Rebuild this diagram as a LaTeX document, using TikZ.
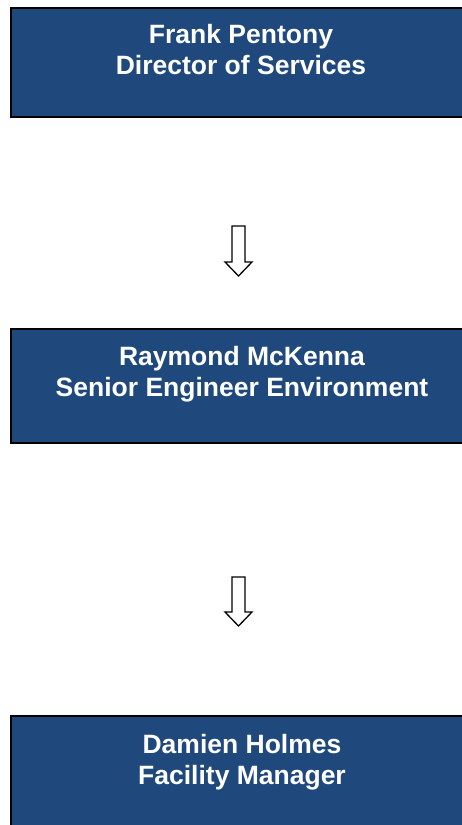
\documentclass[tikz,border=0pt]{standalone}
\usepackage{fontspec}
\setmainfont{Liberation Sans}
\definecolor{boxblue}{RGB}{31,73,125}
\tikzset{
  orgbox/.style={draw=black, line width=2pt, fill=boxblue, minimum width=461pt, inner sep=0pt},
  orgtext/.style={text=white, font=\bfseries\fontsize{26.5}{31}\selectfont, align=center, inner sep=0pt},
  hollowarrow/.style={draw=black, line width=1.3pt, fill=white, line join=miter}
}
% hollow downward block arrow: #1 = top of shaft, #2 = start of head, #3 = tip (y values)
\newcommand{\blockarrowdown}[3]{%
  \draw[hollowarrow] (232,#1) -- (245,#1) -- (245,#2) -- (252,#2) -- (238.5,#3)
    -- (225,#2) -- (232,#2) -- cycle;}
\begin{document}
\begin{tikzpicture}[x=1pt,y=-1pt]
  \useasboundingbox (0,0) rectangle (462,825);
  % organisation boxes (they run past the right edge)
  \node[orgbox, minimum height=109pt] (frank) at (241.5,62.5) {};
  \node[orgbox, minimum height=114pt] (raymond) at (241.5,386) {};
  \node[orgbox, minimum height=120pt] (damien) at (241.5,776) {};
  % names and job titles (anchored on the baseline of the second line)
  \node[orgtext, anchor=base] (franktext) at (241,74.5) {Frank Pentony\\Director of Services};
  \node[orgtext, anchor=base] (raymondtext) at (242,396.5) {Raymond McKenna\\Senior Engineer Environment};
  \node[orgtext, anchor=base] (damientext) at (242,784) {Damien Holmes\\Facility Manager};
  % reporting arrows
  \blockarrowdown{226}{262}{276}
  \blockarrowdown{577}{612}{626}
\end{tikzpicture}
\end{document}
